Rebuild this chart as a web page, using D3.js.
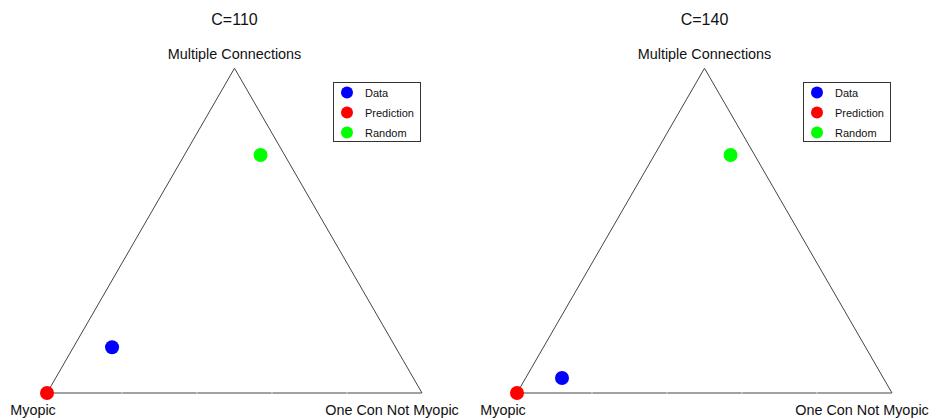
<!DOCTYPE html>
<html>
<head>
<meta charset="utf-8">
<script src="https://cdn.jsdelivr.net/npm/d3@7"></script>
<style>
  html, body { margin: 0; padding: 0; background: #fff; }
  svg { display: block; font-family: "Liberation Sans", Arial, sans-serif; }
</style>
</head>
<body>
<svg id="chart" width="933" height="419"></svg>
<script>
// Vertex names of the simplex: [bottom-left, bottom-right, top]
const vertexLabels = ["Myopic", "One Con Not Myopic", "Multiple Connections"];
const panelTitles = ["C=110", "C=140"];

// Compositions per panel, as shares of [Myopic, One Con Not Myopic, Multiple Connections]
const dataMyopic   = [0.756, 0.857];
const dataOneCon   = [0.103, 0.097];
const dataMultiple = [0.141, 0.046];

const predMyopic   = [1.0, 1.0];
const predOneCon   = [0.0, 0.0];
const predMultiple = [0.0, 0.0];

const randMyopic   = [0.064, 0.064];
const randOneCon   = [0.203, 0.203];
const randMultiple = [0.733, 0.733];

const seriesNames  = ["Data", "Prediction", "Random"];
const seriesColors = ["#0000ff", "#ff0000", "#00ff00"];

const svg = d3.select("#chart");

const panelOffsets = [0, 470];
const side = 375;
const baseY = 393;
const height = side * Math.sqrt(3) / 2;

panelTitles.forEach((title, p) => {
  const ox = panelOffsets[p];
  const g = svg.append("g").attr("transform", `translate(${ox},0)`);

  // horizontal position along the base, vertical position by top-vertex share
  const x = d3.scaleLinear().domain([0, 1]).range([47, 47 + side]);
  const y = d3.scaleLinear().domain([0, 1]).range([baseY, baseY - height]);
  const project = (a, b, c) => [x(b + c / 2), y(c)];

  const BL = project(1, 0, 0), BR = project(0, 1, 0), TP = project(0, 0, 1);

  // triangle edges, the base split into five pieces
  const edge = (p0, p1, n) => {
    const segs = [];
    for (let i = 0; i < n; i++) {
      const t0 = i / n, t1 = (i + 1) / n;
      segs.push([
        [p0[0] + (p1[0] - p0[0]) * t0, p0[1] + (p1[1] - p0[1]) * t0],
        [p0[0] + (p1[0] - p0[0]) * t1, p0[1] + (p1[1] - p0[1]) * t1]
      ]);
    }
    return segs;
  };
  const segs = [...edge(BL, BR, 5).map(s => [[s[0][0] + 0.3, s[0][1]], [s[1][0] - 0.3, s[1][1]]]),
                ...edge(BR, TP, 1), ...edge(TP, BL, 1)];
  g.selectAll("line.edge").data(segs).join("line")
    .attr("class", "edge")
    .attr("x1", d => d[0][0]).attr("y1", d => d[0][1])
    .attr("x2", d => d[1][0]).attr("y2", d => d[1][1])
    .attr("stroke", "#444").attr("stroke-width", 1);

  // title and vertex labels
  g.append("text").attr("x", TP[0]).attr("y", 25).attr("text-anchor", "middle")
    .attr("font-size", 16).attr("fill", "#111").text(title);
  g.append("text").attr("x", TP[0]).attr("y", 59).attr("text-anchor", "middle")
    .attr("font-size", 14.4).attr("fill", "#111").text(vertexLabels[2]);
  g.append("text").attr("x", BL[0] - 14).attr("y", 415).attr("text-anchor", "middle")
    .attr("font-size", 14.4).attr("fill", "#111").text(vertexLabels[0]);
  g.append("text").attr("x", BR[0] - 30).attr("y", 415).attr("text-anchor", "middle")
    .attr("font-size", 14.4).attr("fill", "#111").text(vertexLabels[1]);

  // points
  const pts = [
    { s: 0, c: [dataMyopic[p], dataOneCon[p], dataMultiple[p]] },
    { s: 1, c: [predMyopic[p], predOneCon[p], predMultiple[p]] },
    { s: 2, c: [randMyopic[p], randOneCon[p], randMultiple[p]] }
  ];
  g.selectAll("circle.pt").data(pts).join("circle")
    .attr("class", "pt")
    .attr("cx", d => project(...d.c)[0])
    .attr("cy", d => project(...d.c)[1])
    .attr("r", 7)
    .attr("fill", d => seriesColors[d.s]);

  // legend
  const lg = g.append("g").attr("transform", "translate(333.5,82.5)");
  lg.append("rect").attr("width", 87).attr("height", 59)
    .attr("fill", "#fff").attr("stroke", "#333").attr("stroke-width", 1);
  const ly = d3.scalePoint().domain(seriesNames).range([10, 50]);
  seriesNames.forEach((name, i) => {
    lg.append("circle").attr("cx", 13.5).attr("cy", ly(name)).attr("r", 6)
      .attr("fill", seriesColors[i]);
    lg.append("text").attr("x", 31.5).attr("y", ly(name) + 4)
      .attr("font-size", 11).attr("fill", "#111").text(name);
  });
});
</script>
</body>
</html>
